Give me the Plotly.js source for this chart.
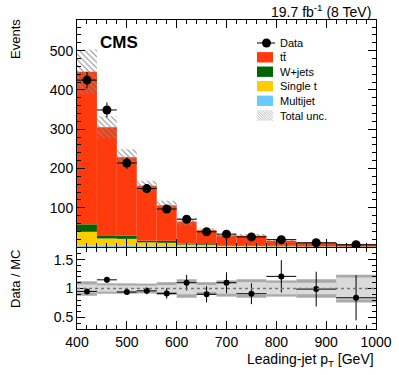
<!DOCTYPE html>
<html>
<head>
<meta charset="utf-8">
<script src="https://cdn.plot.ly/plotly-3.0.1.min.js"></script>
<style>html,body{margin:0;padding:0;background:#fff;}#chart{width:399px;height:375px;}</style>
</head>
<body>
<div id="chart"></div>
<script>
// ---- data ----
const binEdges   = [400, 440, 480, 520, 560, 600, 640, 680, 720, 780, 840, 920, 1000];
const dataEvents = [425, 349, 214, 149, 97, 71, 39, 33, 26, 19, 11, 6];
const dataErr    = [21, 19, 15, 12, 10, 8.5, 6.5, 6, 5, 4.5, 3.5, 2.5];
const multijet   = [4, 3, 3, 2, 2, 1.5, 1.5, 1, 1, 0.8, 0.5, 0.4];
const singleTop  = [35, 19, 18, 10, 9, 5, 4, 3, 2.5, 1.5, 1, 0.6];
const wjets      = [19, 8, 8, 4, 5, 2.5, 2, 1.5, 1.5, 1, 0.8, 0.5];
const ttbar      = [388, 275, 200, 140, 90, 56, 35.5, 24.5, 24, 12.7, 8.7, 5.5];
const totalUnc   = [57, 28, 20, 13, 12, 10, 5, 4.5, 4.5, 2.3, 1.8, 1.7];
const ratio      = [0.95, 1.15, 0.94, 0.96, 0.915, 1.10, 0.90, 1.10, 0.91, 1.21, 0.99, 0.84];
const ratioErr   = [0.04, 0.05, 0.05, 0.06, 0.09, 0.135, 0.14, 0.18, 0.18, 0.28, 0.30, 0.39];
const bandTotal  = [0.125, 0.09, 0.09, 0.085, 0.11, 0.16, 0.11, 0.14, 0.16, 0.14, 0.16, 0.24];
const bandStat   = [0.07, 0.055, 0.05, 0.05, 0.06, 0.10, 0.06, 0.09, 0.11, 0.10, 0.10, 0.19];
const topYTicks  = [100, 200, 300, 400, 500];
const ratioYTicks = [0.5, 1, 1.5];
const legendLabels = ['Data', 'tt\u0304', 'W+jets', 'Single t', 'Multijet', 'Total unc.'];

// ---- derived (for library) ----
const centers = binEdges.slice(0, -1).map((e, i) => (e + binEdges[i + 1]) / 2);
const widths  = binEdges.slice(0, -1).map((e, i) => binEdges[i + 1] - e);
const halfW   = widths.map(w => w / 2);
const base1 = multijet;
const base2 = multijet.map((v, i) => v + singleTop[i]);
const base3 = base2.map((v, i) => v + wjets[i]);
const mcTot = base3.map((v, i) => v + ttbar[i]);

const COL = {tt: '#ff3a0c', w: '#006400', st: '#ffcc00', mj: '#66ccff'};
const FONT = 'Liberation Sans, Arial, Helvetica, sans-serif';

function bar(y, base, color, xa, ya) {
  return {type: 'bar', x: centers, y: y, base: base, width: widths, xaxis: xa, yaxis: ya,
          marker: {color: color, line: {width: 0}}, showlegend: false, hoverinfo: 'skip'};
}

const traces = [
  bar(multijet, multijet.map(() => 0), COL.mj, 'x2', 'y2'),
  bar(singleTop, base1, COL.st, 'x2', 'y2'),
  bar(wjets, base2, COL.w, 'x2', 'y2'),
  bar(ttbar, base3, COL.tt, 'x2', 'y2'),
  {type: 'bar', x: centers, y: totalUnc.map(u => 2 * u), base: mcTot.map((m, i) => m - totalUnc[i]),
   width: widths, xaxis: 'x2', yaxis: 'y2', showlegend: false, hoverinfo: 'skip',
   marker: {color: 'rgba(0,0,0,0)', line: {width: 0},
            pattern: {shape: '\\', fgcolor: '#8a8a8a', bgcolor: 'rgba(0,0,0,0)', size: 4, solidity: 0.25}}},
  {type: 'scatter', mode: 'markers', x: centers, y: dataEvents, xaxis: 'x2', yaxis: 'y2',
   marker: {color: 'black', size: 9}, showlegend: false, hoverinfo: 'skip',
   error_x: {type: 'data', array: halfW, color: 'black', thickness: 1, width: 0},
   error_y: {type: 'data', array: dataErr, color: 'black', thickness: 1, width: 0}},
  // ratio panel
  {type: 'bar', x: centers, y: bandTotal.map(b => 2 * b), base: bandTotal.map(b => 1 - b), width: widths,
   xaxis: 'x', yaxis: 'y', marker: {color: '#a9a9a9', line: {width: 0}}, showlegend: false, hoverinfo: 'skip'},
  {type: 'bar', x: centers, y: bandStat.map(b => 2 * b), base: bandStat.map(b => 1 - b), width: widths,
   xaxis: 'x', yaxis: 'y', marker: {color: '#dadada', line: {width: 0}}, showlegend: false, hoverinfo: 'skip'},
  {type: 'scatter', mode: 'markers', x: centers, y: ratio, xaxis: 'x', yaxis: 'y',
   marker: {color: 'black', size: 6}, showlegend: false, hoverinfo: 'skip',
   error_x: {type: 'data', array: halfW, color: 'black', thickness: 1, width: 0},
   error_y: {type: 'data', array: ratioErr, color: 'black', thickness: 1, width: 0}}
];

// pixel -> paper helpers (plot area: x 77..376, y 20..329)
const L = 77, R = 23, T = 20, B = 46, W = 399, H = 375;
const PW = W - L - R, PH = H - T - B;
const px = x => (x - L) / PW;
const py = y => (H - B - y) / PH;

const shapes = [
  {type: 'line', xref: 'x', yref: 'y', x0: 400, x1: 1000, y0: 1, y1: 1,
   line: {color: '#777', width: 1.5, dash: 'dot'}}
];
// legend graphics
shapes.push({type: 'line', xref: 'paper', yref: 'paper', x0: px(257), x1: px(275), y0: py(43), y1: py(43),
             line: {color: 'black', width: 1}});
shapes.push({type: 'circle', xref: 'paper', yref: 'paper', x0: px(262), x1: px(271), y0: py(38.5), y1: py(47.5),
             fillcolor: 'black', line: {width: 0}});
const boxCols = [COL.tt, COL.w, COL.st, COL.mj];
const rowY = [43, 57.3, 71.7, 86.2, 100.8, 115.5];
boxCols.forEach((c, i) => {
  const yc = rowY[i + 1];
  shapes.push({type: 'rect', xref: 'paper', yref: 'paper', x0: px(257), x1: px(273), y0: py(yc - 5.2), y1: py(yc + 5.2),
               fillcolor: c, line: {width: 0}});
});
// hatch legend box
(function () {
  const x0 = 257, x1 = 273, yc = rowY[5], y0 = yc - 5.2, y1 = yc + 5.2;
  let path = '';
  for (let s = -12; s < 18; s += 2.5) {
    let ax = x0 + s, ay = y0, bx = x0 + s + (y1 - y0), by = y1;
    if (ax < x0) { ay += x0 - ax; ax = x0; }
    if (bx > x1) { by -= bx - x1; bx = x1; }
    if (ay >= by || ax >= bx) continue;
    path += `M${px(ax)},${py(ay)}L${px(bx)},${py(by)}`;
  }
  shapes.push({type: 'path', xref: 'paper', yref: 'paper', path: path, line: {color: '#aaaaaa', width: 0.8}});
})();

const annotations = [
  {xref: 'paper', yref: 'paper', x: px(98), y: py(42.5), xanchor: 'left', yanchor: 'middle', showarrow: false,
   text: '<b>CMS</b>', font: {family: FONT, size: 17, color: 'black'}},
  {xref: 'paper', yref: 'paper', x: px(373), y: py(11), xanchor: 'right', yanchor: 'middle', showarrow: false,
   text: '19.7 fb<sup>-1</sup> (8 TeV)', font: {family: FONT, size: 14, color: 'black'}},
  {xref: 'paper', yref: 'paper', x: px(15), y: py(39), xanchor: 'center', yanchor: 'middle', showarrow: false,
   textangle: -90, text: 'Events', font: {family: FONT, size: 13, color: 'black'}},
  {xref: 'paper', yref: 'paper', x: px(15), y: py(279), xanchor: 'center', yanchor: 'middle', showarrow: false,
   textangle: -90, text: 'Data / MC', font: {family: FONT, size: 13, color: 'black'}},
  {xref: 'paper', yref: 'paper', x: px(376), y: py(360), xanchor: 'right', yanchor: 'middle', showarrow: false,
   text: 'Leading-jet p<sub>T</sub> [GeV]', font: {family: FONT, size: 14, color: 'black'}}
];
legendLabels.forEach((t, i) => {
  annotations.push({xref: 'paper', yref: 'paper', x: px(278), y: py(rowY[i]), xanchor: 'left', yanchor: 'middle',
                    showarrow: false, text: t, font: {family: FONT, size: 11, color: 'black'}});
});

const axisCommon = {
  showline: true, linecolor: 'black', linewidth: 1, mirror: 'allticks', ticks: 'inside', ticklen: 8,
  tickcolor: 'black', tickwidth: 1, showgrid: false, zeroline: false,
  tickfont: {family: FONT, size: 14, color: 'black'}
};

const layout = {
  width: W, height: H, margin: {l: L, r: R, t: T, b: B, pad: 0},
  paper_bgcolor: 'white', plot_bgcolor: 'white', barmode: 'overlay', showlegend: false,
  font: {family: FONT, color: 'black'},
  xaxis: Object.assign({}, axisCommon, {domain: [0, 1], anchor: 'y', range: [400, 1000], dtick: 100, tick0: 400,
    minor: {ticks: 'inside', ticklen: 4, dtick: 20, tick0: 400, tickcolor: 'black'}}),
  yaxis: Object.assign({}, axisCommon, {domain: [0, 0.262], anchor: 'x', range: [0.3, 1.7],
    tickmode: 'array', tickvals: ratioYTicks, ticktext: ratioYTicks.map(String),
    minor: {ticks: 'inside', ticklen: 4, dtick: 0.1, tick0: 0.3, tickcolor: 'black'}}),
  xaxis2: Object.assign({}, axisCommon, {domain: [0, 1], anchor: 'y2', matches: 'x', range: [400, 1000],
    dtick: 100, tick0: 400, showticklabels: false,
    minor: {ticks: 'inside', ticklen: 4, dtick: 20, tick0: 400, tickcolor: 'black'}}),
  yaxis2: Object.assign({}, axisCommon, {domain: [0.265, 1], anchor: 'x2', range: [0, 578],
    tickmode: 'array', tickvals: topYTicks, ticktext: topYTicks.map(String),
    minor: {ticks: 'inside', ticklen: 4, dtick: 20, tick0: 0, tickcolor: 'black'}}),
  shapes: shapes,
  annotations: annotations
};

Plotly.newPlot('chart', traces, layout, {staticPlot: true, displayModeBar: false});
</script>
</body>
</html>
